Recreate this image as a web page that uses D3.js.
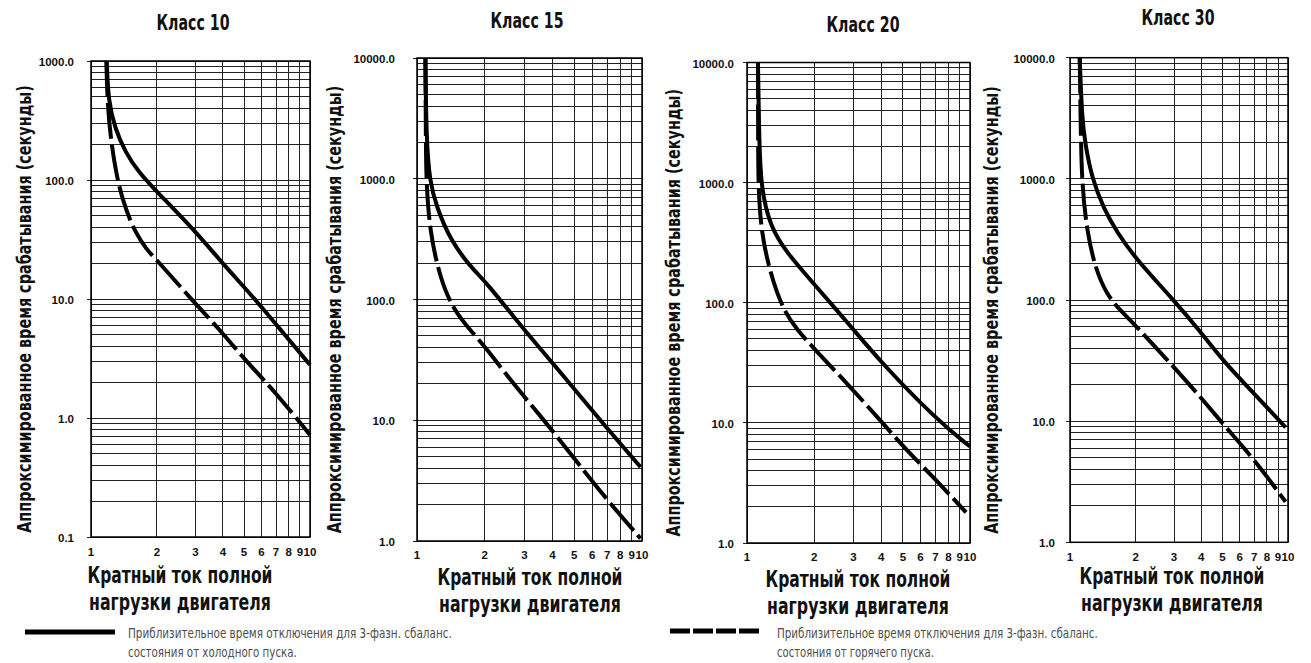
<!DOCTYPE html>
<html>
<head>
<meta charset="utf-8">
<script src="https://cdn.jsdelivr.net/npm/d3@7"></script>
<style>
  body { margin: 0; background: #fff; }
  svg { display: block; }
  .cond { font-family: "Liberation Sans Narrow", "Arial Narrow", "DejaVu Sans Condensed", sans-serif; font-weight: bold; fill: #111; }
  .tick { font-family: "Liberation Sans", Arial, sans-serif; font-weight: bold; font-size: 11.5px; fill: #111; }
  .legend-text { font-family: "Liberation Sans Narrow", "Arial Narrow", "DejaVu Sans Condensed", sans-serif; font-size: 14px; fill: #4d4d4d; }
  .grid line { stroke: #222; stroke-width: 1; shape-rendering: crispEdges; }
</style>
</head>
<body>
<div id="chart"></div>
<script>
const PANEL_TITLES = ["Класс 10", "Класс 15", "Класс 20", "Класс 30"];
const Y_TITLE = "Аппроксимированное время срабатывания (секунды)";
const X_TITLE = ["Кратный ток полной", "нагрузки двигателя"];
const LEGEND_COLD = ["Приблизительное время отключения для 3-фазн. сбаланс.", "состояния от холодного пуска."];
const LEGEND_HOT = ["Приблизительное время отключения для 3-фазн. сбаланс.", "состояния от горячего пуска."];

const X_TICKS = [1, 2, 3, 4, 5, 6, 7, 8, 9, 10];
const Y_DOMAINS = [[0.1, 1000], [1, 10000], [1, 10000], [1, 10000]];
const Y_LABELED = [
  [0.1, 1, 10, 100, 1000],
  [1, 10, 100, 1000, 10000],
  [1, 10, 100, 1000, 10000],
  [1, 10, 100, 1000, 10000]
];

// [multiple of FLC, seconds]
const COLD_10 = [[1.18, 1000], [1.2, 455], [1.287, 272], [1.43, 173], [1.644, 117], [1.995, 80], [2.98, 37.5], [3.95, 20.3], [5.81, 9.3], [7.69, 4.95], [10, 2.8]];
const HOT_10 = [[1.175, 1000], [1.19, 427], [1.234, 210], [1.33, 91], [1.456, 54], [1.588, 36.8], [1.796, 25.8], [2.0, 21.3], [2.98, 9.2], [3.95, 5.3], [5.05, 3.07], [6.93, 1.66], [10, 0.72]];

const COLD_15 = [[1.09, 10000], [1.1, 2130], [1.14, 935], [1.22, 592], [1.4, 315], [1.72, 188], [2.04, 138], [2.92, 59], [3.97, 30.5], [6.97, 8.6], [9.85, 4.1]];
const HOT_15 = [[1.09, 10000], [1.095, 2000], [1.1, 935], [1.14, 360], [1.27, 147], [1.45, 83], [1.72, 56], [2.0, 41], [2.68, 20], [3.52, 11], [4.63, 5.8], [6.97, 2.2], [9.85, 1.05]];

const COLD_20 = [[1.12, 10000], [1.135, 2000], [1.16, 875], [1.27, 433], [1.51, 259], [1.98, 146], [3.0, 60], [4.02, 31.4], [7.1, 10.6], [10, 6.35]];
const HOT_20 = [[1.12, 10000], [1.122, 2000], [1.125, 875], [1.16, 381], [1.27, 177], [1.45, 87.5], [1.67, 60], [2.02, 40.6], [2.9, 20], [3.94, 10.6], [5.2, 5.9], [7.1, 3.3], [9.6, 1.8]];

const COLD_30 = [[1.108, 10000], [1.135, 3140], [1.177, 1890], [1.262, 1005], [1.428, 567], [1.64, 365], [1.995, 220], [2.99, 100], [3.96, 55], [5.07, 31], [6.96, 17], [9.75, 8.9]];
const HOT_30 = [[1.108, 10000], [1.12, 2500], [1.135, 885], [1.197, 365], [1.308, 181], [1.478, 110], [1.703, 82], [1.995, 62], [2.99, 28], [3.96, 15.9], [5.07, 9.3], [6.96, 4.9], [9.75, 2.16]];

const COLD = [COLD_10, COLD_15, COLD_20, COLD_30];
const HOT = [HOT_10, HOT_15, HOT_20, HOT_30];

// panel boxes
const LAYOUT = [
  { left: 91, right: 310, top: 61, bottom: 537, titleX: 193, titleY: 30, yTitleX: 31, tickGap: 17, xTickY: 556, xTitleX: 180, xTitleY: 583 },
  { left: 417, right: 642, top: 58, bottom: 541, titleX: 527, titleY: 28, yTitleX: 341, tickGap: 22, xTickY: 559, xTitleX: 530, xTitleY: 585 },
  { left: 747, right: 970, top: 62.5, bottom: 543, titleX: 863, titleY: 32, yTitleX: 680, tickGap: 13, xTickY: 561, xTitleX: 858, xTitleY: 587 },
  { left: 1070, right: 1288, top: 57.7, bottom: 542.3, titleX: 1178, titleY: 25, yTitleX: 998, tickGap: 15, xTickY: 561, xTitleX: 1172, xTitleY: 584 }
];

const W = 1311, H = 663;
const svg = d3.select("#chart").append("svg").attr("width", W).attr("height", H);
const defs = svg.append("defs");

// squeeze a text horizontally to a given width (condensed face look)
function fitText(parent, cls, str, size, width, tx, ty, rotate, anchor) {
  const t = parent.append("text").attr("class", cls)
    .attr("x", 0).attr("y", 0)
    .attr("text-anchor", anchor || "middle")
    .style("font-size", `${size}px`)
    .text(str);
  const natural = t.node().getComputedTextLength() || width;
  const sx = Math.min(1, width / natural);
  t.attr("transform", `translate(${tx},${ty})${rotate ? ` rotate(${rotate})` : ""} scale(${sx},1)`);
  return t;
}

PANEL_TITLES.forEach((title, i) => {
  const L = LAYOUT[i];
  const x = d3.scaleLog().domain([1, 10]).range([L.left, L.right]);
  const y = d3.scaleLog().domain(Y_DOMAINS[i]).range([L.bottom, L.top]);
  const g = svg.append("g");

  fitText(g, "cond", title, 22, 73, L.titleX, L.titleY);

  // grid
  const grid = g.append("g").attr("class", "grid");
  grid.selectAll("line.h").data(y.ticks()).join("line").attr("class", "h")
    .attr("x1", L.left).attr("x2", L.right)
    .attr("y1", (d) => y(d)).attr("y2", (d) => y(d));
  grid.selectAll("line.v").data(X_TICKS).join("line").attr("class", "v")
    .attr("x1", (d) => x(d)).attr("x2", (d) => x(d))
    .attr("y1", L.top).attr("y2", L.bottom);
  grid.selectAll("line.t").data(Y_LABELED[i]).join("line").attr("class", "t")
    .attr("x1", L.left - 4).attr("x2", L.left)
    .attr("y1", (d) => y(d)).attr("y2", (d) => y(d));

  g.append("rect")
    .attr("x", L.left).attr("y", L.top)
    .attr("width", L.right - L.left).attr("height", L.bottom - L.top)
    .attr("fill", "none").attr("stroke", "#000").attr("stroke-width", 1.5);

  // y tick labels
  g.selectAll("text.ylab").data(Y_LABELED[i]).join("text")
    .attr("class", "tick ylab")
    .attr("x", L.left - L.tickGap).attr("y", (d) => y(d) + 2)
    .attr("text-anchor", "end").attr("dominant-baseline", "middle")
    .text((d) => d.toFixed(1));

  // x tick labels
  g.selectAll("text.xlab").data(X_TICKS).join("text")
    .attr("class", "tick xlab")
    .attr("x", (d) => x(d)).attr("y", L.xTickY)
    .attr("text-anchor", "middle")
    .text((d) => String(d));

  // axis titles
  fitText(g, "cond", Y_TITLE, 20, 448, L.yTitleX, (L.top + L.bottom) / 2 + 10, -90);
  X_TITLE.forEach((line, k) => {
    fitText(g, "cond", line, 23, k === 0 ? 185 : 182, L.xTitleX, L.xTitleY + k * 27);
  });

  // curves
  defs.append("clipPath").attr("id", `clip${i}`).append("rect")
    .attr("x", L.left).attr("y", L.top)
    .attr("width", L.right - L.left + 2).attr("height", L.bottom - L.top);

  const line = d3.line()
    .x((d) => x(d[0]))
    .y((d) => y(d[1]))
    .curve(d3.curveBasis);

  const curves = g.append("g").attr("clip-path", `url(#clip${i})`);
  curves.append("path").datum(HOT[i])
    .attr("d", line).attr("fill", "none")
    .attr("stroke", "#000").attr("stroke-width", 4)
    .attr("stroke-dasharray", "36,6");
  curves.append("path").datum(COLD[i])
    .attr("d", line).attr("fill", "none")
    .attr("stroke", "#000").attr("stroke-width", 4);
});

// legend
const legend = svg.append("g");
legend.append("line")
  .attr("x1", 25).attr("x2", 115).attr("y1", 632).attr("y2", 632)
  .attr("stroke", "#000").attr("stroke-width", 5);
legend.append("line")
  .attr("x1", 670).attr("x2", 759).attr("y1", 631).attr("y2", 631)
  .attr("stroke", "#000").attr("stroke-width", 5)
  .attr("stroke-dasharray", "20,3");

[[128, LEGEND_COLD, [324, 169]], [777, LEGEND_HOT, [321, 157]]].forEach(([lx, lines, lens]) => {
  lines.forEach((t, k) => {
    fitText(legend, "legend-text", t, 14, lens[k], lx, 638 + k * 19, 0, "start");
  });
});
</script>
</body>
</html>
